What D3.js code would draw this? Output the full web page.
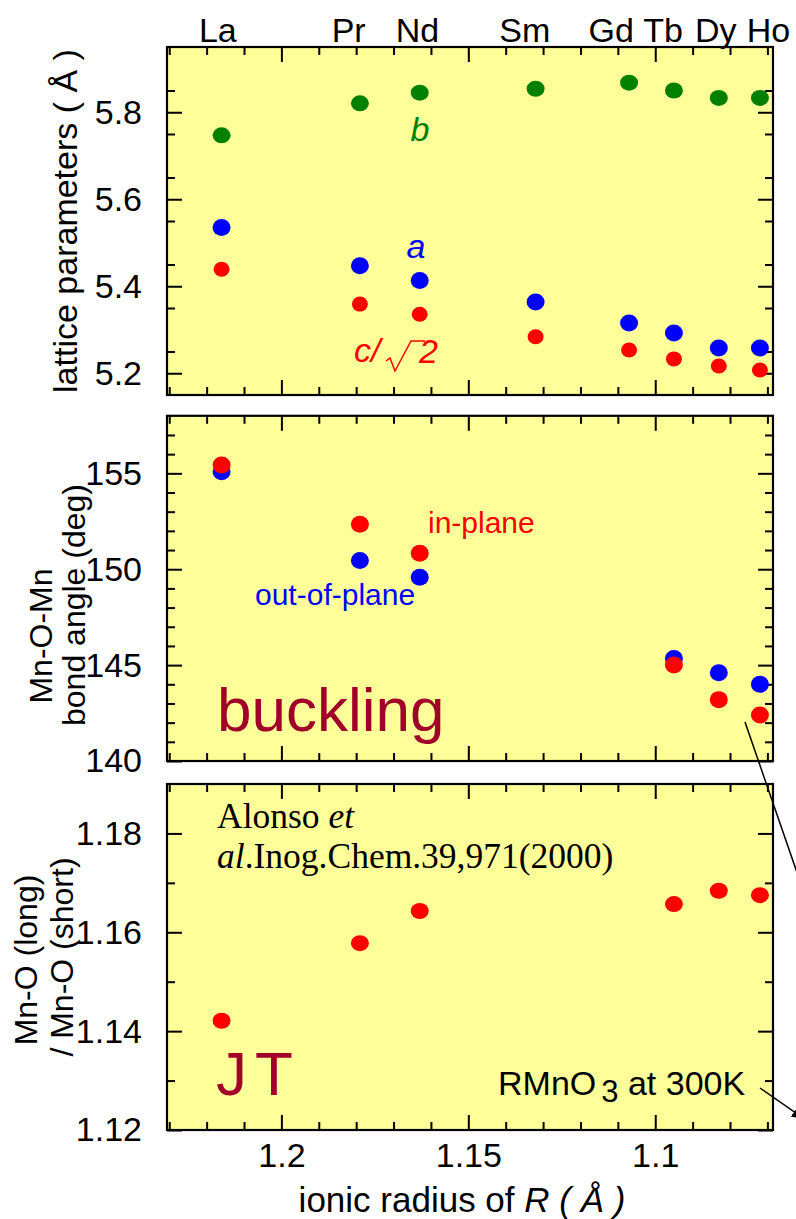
<!DOCTYPE html>
<html><head><meta charset="utf-8">
<script src="https://cdn.jsdelivr.net/npm/d3@7/dist/d3.min.js"></script>
<style>body{margin:0;background:#fff}svg{display:block}</style>
</head><body>
<script>
// ---- data ----
const elements = ["La","Pr","Nd","Sm","Gd","Tb","Dy","Ho"];
const radius = [1.216,1.179,1.163,1.132,1.107,1.095,1.083,1.072];
const labelRadius = [1.217,1.182,1.1636,1.1349,1.1118,1.0979,1.0838,1.0697];
const latticeB = [5.747,5.8205,5.845,5.854,5.868,5.850,5.833,5.833];
const latticeA = [5.535,5.447,5.413,5.364,5.3155,5.2925,5.258,5.258];
const latticeC = [5.439,5.359,5.3355,5.284,5.2534,5.233,5.2167,5.2075];
const angleOut = [155.08,150.46,149.58,null,null,145.35,144.6,144.0];
const angleIn  = [155.43,152.34,150.83,null,null,145.0,143.2,142.4];
const jtRatio  = [1.1421,1.1578,1.1643,null,null,1.1657,1.1684,1.1675];
const xTickLabels = [1.2,1.15,1.1];
const yTicksLattice = [5.2,5.4,5.6,5.8];
const yTicksAngle = [140,145,150,155];
const yTicksJT = [1.12,1.14,1.16,1.18];

const W = 796, H = 1219;
const FONT = "'Liberation Sans', Arial, sans-serif";
const svg = d3.select("body").append("svg").attr("width",W).attr("height",H)
  .style("font-family",FONT);

const x = d3.scaleLinear().domain([1.2306,1.0685]).range([167,773]);
const panels = [
  {top:47, bottom:395, domain:[5.15,5.95], major:yTicksLattice, minorStep:0.1, fmt:d3.format(".1f")},
  {top:415.8, bottom:761, domain:[140,158], major:yTicksAngle, minorStep:1, fmt:d3.format("d")},
  {top:784, bottom:1130, domain:[1.12,1.19], major:yTicksJT, minorStep:0.01, fmt:d3.format(".2f")}
];
const yellow = "#ffff99";
panels.forEach(p => { p.y = d3.scaleLinear().domain(p.domain).range([p.bottom,p.top]); });

function range(a,b,s){const out=[];for(let v=a;v<=b+1e-9;v+=s) out.push(+v.toFixed(4));return out;}
const xMinor = range(1.07,1.23,0.01).filter(v=>!xTickLabels.some(m=>Math.abs(m-v)<1e-6));

panels.forEach((p,i) => {
  const g = svg.append("g");
  g.append("rect").attr("x",167).attr("y",p.top).attr("width",773-167).attr("height",p.bottom-p.top)
    .attr("fill",yellow);
  const axB = d3.axisBottom(x).tickValues(xTickLabels).tickSize(-15).tickFormat(i===2?(d=>String(d)):"").tickPadding(13);
  const axBm = d3.axisBottom(x).tickValues(xMinor).tickSize(-8).tickFormat("");
  const axT = d3.axisTop(x).tickValues(xTickLabels).tickSize(-15).tickFormat("");
  const axTm = d3.axisTop(x).tickValues(xMinor).tickSize(-8).tickFormat("");
  [[axB,p.bottom],[axBm,p.bottom],[axT,p.top],[axTm,p.top]].forEach(([ax,yy])=>{
    const a = g.append("g").attr("transform",`translate(0,${yy})`).call(ax);
    a.select(".domain").remove();
    a.selectAll("line").attr("stroke","#000").attr("stroke-width",2);
    a.selectAll("text").attr("font-size",34).attr("fill","#000").attr("font-family",FONT);
  });
  const yMinor = range(p.domain[0], p.domain[1], p.minorStep).filter(v=>!p.major.some(m=>Math.abs(m-v)<1e-6) && v>p.domain[0]+1e-9 && v<p.domain[1]-1e-9);
  const axL = d3.axisLeft(p.y).tickValues(p.major).tickSize(-15).tickFormat(p.fmt).tickPadding(25);
  const axLm = d3.axisLeft(p.y).tickValues(yMinor).tickSize(-8).tickFormat("");
  const axR = d3.axisRight(p.y).tickValues(p.major).tickSize(-15).tickFormat("");
  const axRm = d3.axisRight(p.y).tickValues(yMinor).tickSize(-8).tickFormat("");
  [[axL,167],[axLm,167],[axR,773],[axRm,773]].forEach(([ax,xx])=>{
    const a = g.append("g").attr("transform",`translate(${xx},0)`).call(ax);
    a.select(".domain").remove();
    a.selectAll("line").attr("stroke","#000").attr("stroke-width",2);
    a.selectAll("text").attr("font-size",34).attr("fill","#000").attr("font-family",FONT);
  });
  p.g = g;
});

function dots(p, values, color, rx, ry){
  const data = radius.map((r,i)=>({r, v:values[i]})).filter(d=>d.v!=null);
  p.g.append("g").selectAll("ellipse").data(data).join("ellipse")
    .attr("cx",d=>x(d.r)).attr("cy",d=>p.y(d.v)).attr("rx",rx).attr("ry",ry).attr("fill",color);
}
dots(panels[0], latticeB, "#008000", 9, 8);
dots(panels[0], latticeA, "#0000ff", 9, 8.5);
dots(panels[0], latticeC, "#ff0000", 8, 7.5);
dots(panels[1], angleOut, "#0000ff", 9, 8.5);
dots(panels[1], angleIn, "#ff0000", 9, 8.5);
dots(panels[2], jtRatio, "#ff0000", 9, 8);

// frames
panels.forEach(p=>{
  svg.append("rect").attr("x",167).attr("y",p.top).attr("width",773-167).attr("height",p.bottom-p.top)
    .attr("fill","none").attr("stroke","#000").attr("stroke-width",2.2);
});

// element labels on top
svg.append("g").selectAll("text").data(elements).join("text")
  .attr("x",(d,i)=>x(labelRadius[i])).attr("y",42).attr("text-anchor","middle")
  .attr("font-size",34).text(d=>d);

// y titles
function vtext(txt, cx, cy, size){
  return svg.append("text").attr("transform",`translate(${cx},${cy}) rotate(-90)`)
    .attr("text-anchor","middle").attr("font-size",size).text(txt);
}
vtext("lattice parameters ( Å )", 77, 221, 34);
vtext("Mn-O-Mn", 52, 636, 32);
vtext("bond angle (deg)", 85, 605, 32);
vtext("Mn-O (long)", 37, 960, 32);
vtext("/ Mn-O (short)", 73, 957, 32);

// x title
const xt = svg.append("text").attr("x",462).attr("y",1212).attr("text-anchor","middle").attr("font-size",35);
xt.append("tspan").text("ionic radius of  ");
xt.append("tspan").attr("font-style","italic").text("R ( Å )");

// series annotations
svg.append("text").attr("x",420).attr("y",141).attr("text-anchor","middle").attr("font-size",34)
  .attr("font-style","italic").attr("fill","#008000").text("b");
svg.append("text").attr("x",416).attr("y",258).attr("text-anchor","middle").attr("font-size",34)
  .attr("font-style","italic").attr("fill","#0000ff").text("a");
const cg = svg.append("g").attr("fill","#ff0000");
cg.append("text").attr("x",354).attr("y",362).attr("font-size",34).attr("font-style","italic").text("c/");
cg.append("path").attr("d","M386,361 L390,358 L395,371 L411,341 L425,341").attr("fill","none")
  .attr("stroke","#ff0000").attr("stroke-width",1.5);
cg.append("text").attr("x",419).attr("y",363).attr("font-size",34).attr("font-style","italic").text("2");

svg.append("text").attr("x",428).attr("y",533).attr("font-size",30).attr("fill","#ff0000").text("in-plane");
svg.append("text").attr("x",255).attr("y",605).attr("font-size",30).attr("fill","#0000ff").text("out-of-plane");

svg.append("text").attr("x",217).attr("y",731).attr("font-size",62).attr("fill","#a0002a").text("buckling");
svg.append("text").attr("x",216).attr("y",1095).attr("font-size",62).attr("letter-spacing",8).attr("fill","#a0002a").text("JT");

const ref = svg.append("g").attr("font-family","'Liberation Serif', 'Times New Roman', serif").attr("font-size",35.5).attr("fill","#000");
const r1 = ref.append("text").attr("x",217).attr("y",828);
r1.append("tspan").text("Alonso ");
r1.append("tspan").attr("font-style","italic").text("et");
const r2 = ref.append("text").attr("x",217).attr("y",868);
r2.append("tspan").attr("font-style","italic").text("al");
r2.append("tspan").text(".Inog.Chem.39,971(2000)");

const rm = svg.append("text").attr("x",498).attr("y",1095).attr("font-size",34);
rm.append("tspan").text("RMnO");
rm.append("tspan").attr("dx",5).attr("dy",7).attr("font-size",31).text("3");
rm.append("tspan").attr("dy",-7).text(" at 300K");

// pointer lines
svg.append("defs").append("marker").attr("id","ah").attr("viewBox","0 0 10 10").attr("refX",9).attr("refY",5)
  .attr("markerWidth",12).attr("markerHeight",12).attr("markerUnits","userSpaceOnUse").attr("orient","auto")
  .append("path").attr("d","M0,0 L10,5 L0,10 z").attr("fill","#000");
svg.append("line").attr("x1",745).attr("y1",722).attr("x2",802).attr("y2",887).attr("stroke","#000").attr("stroke-width",1.5);
svg.append("line").attr("x1",760).attr("y1",1088).attr("x2",803).attr("y2",1118).attr("stroke","#000").attr("stroke-width",1.5)
  .attr("marker-end","url(#ah)");
</script>
</body></html>
